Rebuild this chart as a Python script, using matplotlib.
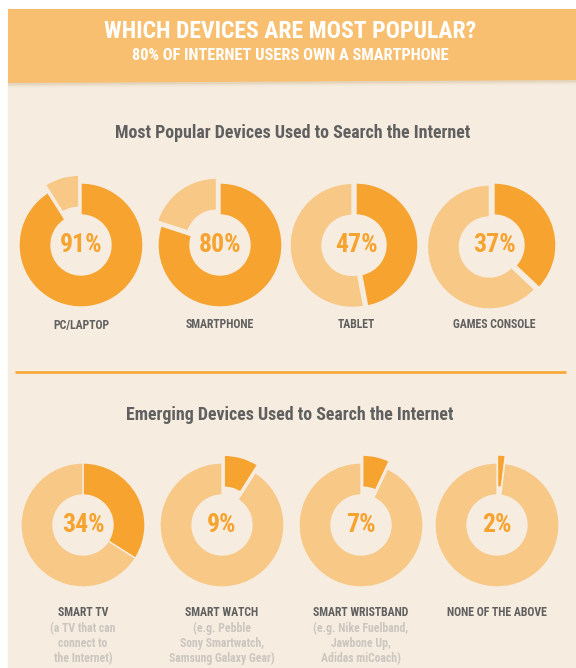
import matplotlib.pyplot as plt
from matplotlib.patches import Rectangle, Polygon

# survey results (% of internet users)
popular_labels = ['PC/LAPTOP', 'SMARTPHONE', 'TABLET', 'GAMES CONSOLE']
popular_values = [91, 80, 47, 37]

emerging_labels = ['SMART TV', 'SMART WATCH', 'SMART WRISTBAND', 'NONE OF THE ABOVE']
emerging_notes = ['(a TV that can\nconnect to\nthe Internet)',
                  '(e.g. Pebble\nSony Smartwatch,\nSamsung Galaxy Gear)',
                  '(e.g. Nike Fuelband,\nJawbone Up,\nAdidas miCoach)',
                  '']
emerging_values = [34, 9, 7, 2]

BG = '#f6ecdf'
HEADER = '#f8bf70'
DARK = '#f6a32f'
LIGHT = '#f7c886'
GREY = '#606060'
NOTE = '#cbc6c0'
COND = ['Roboto Condensed', 'DejaVu Sans']

W, H = 576, 668
fig = plt.figure(figsize=(W / 100, H / 100), dpi=100)
fig.patch.set_facecolor('white')
ax = fig.add_axes([0, 0, 1, 1])


def Y(y):
    # page coordinates run top-down
    return H - y


ax.add_patch(Rectangle((8, 0), W - 8, Y(9), color=BG, zorder=0))
# header band with a soft shadow
for i, a in enumerate([0.10, 0.07, 0.04, 0.02]):
    ax.add_patch(Polygon([(8, Y(9)), (W, Y(9)), (W, Y(81 + i + 1)), (8, Y(84 + i + 1))],
                         color='#b08a50', alpha=a, lw=0, zorder=1))
ax.add_patch(Polygon([(8, Y(9)), (W, Y(9)), (W, Y(80)), (8, Y(83))], color=HEADER, lw=0, zorder=2))
ax.text(290, Y(31), 'WHICH DEVICES ARE MOST POPULAR?', ha='center', va='center',
        color='white', fontsize=17, fontweight='bold', family=COND, zorder=3)
ax.text(290, Y(56), '80% OF INTERNET USERS OWN A SMARTPHONE', ha='center', va='center',
        color='white', fontsize=11.8, fontweight='bold', family=COND, zorder=3)

ax.text(293, Y(133), 'Most Popular Devices Used to Search the Internet', ha='center',
        va='center', color=GREY, fontsize=12.9, fontweight='bold', family=COND)
ax.plot([15, 566], [Y(372), Y(372)], color='#f7a93c', lw=2, solid_capstyle='butt')
ax.text(290, Y(415), 'Emerging Devices Used to Search the Internet', ha='center',
        va='center', color=GREY, fontsize=12.9, fontweight='bold', family=COND)

R, RING = 62, 32


def donut(cx, cy, value, explode, label, ly, note=''):
    ax.pie([value, 100 - value], center=(cx, Y(cy)), radius=R, startangle=90,
           counterclock=False, colors=[DARK, LIGHT], explode=explode,
           wedgeprops=dict(width=RING, edgecolor=BG, linewidth=1))
    ax.text(cx, Y(cy), f'{value}%', ha='center', va='center', color=DARK,
            fontsize=18.5, fontweight='bold', family=COND)
    ax.text(cx, Y(ly), label, ha='center', va='center', color=GREY,
            fontsize=8.5, fontweight='bold', family=COND)
    if note:
        ax.text(cx, Y(ly + 9), note, ha='center', va='top', color=NOTE,
                fontsize=8.5, fontweight='bold', family=COND, linespacing=1.17)


top_x = [81, 220, 356, 494]
top_pop = [8, 6, 4, 5]   # light slice pulled out
for x, v, e, lab in zip(top_x, popular_values, top_pop, popular_labels):
    donut(x, 245, v, [0, e], lab, 325)

low_x = [83, 222, 361, 497]
low_pop = [0, 8, 8, 8]   # dark slice pulled out
for x, v, e, lab, n in zip(low_x, emerging_values, low_pop, emerging_labels, emerging_notes):
    donut(x, 525, v, [e, 0], lab, 613, n)

ax.set_xlim(0, W)
ax.set_ylim(0, H)
ax.set_aspect('auto')
ax.axis('off')
fig.savefig('out.png', dpi=100, facecolor='white')
